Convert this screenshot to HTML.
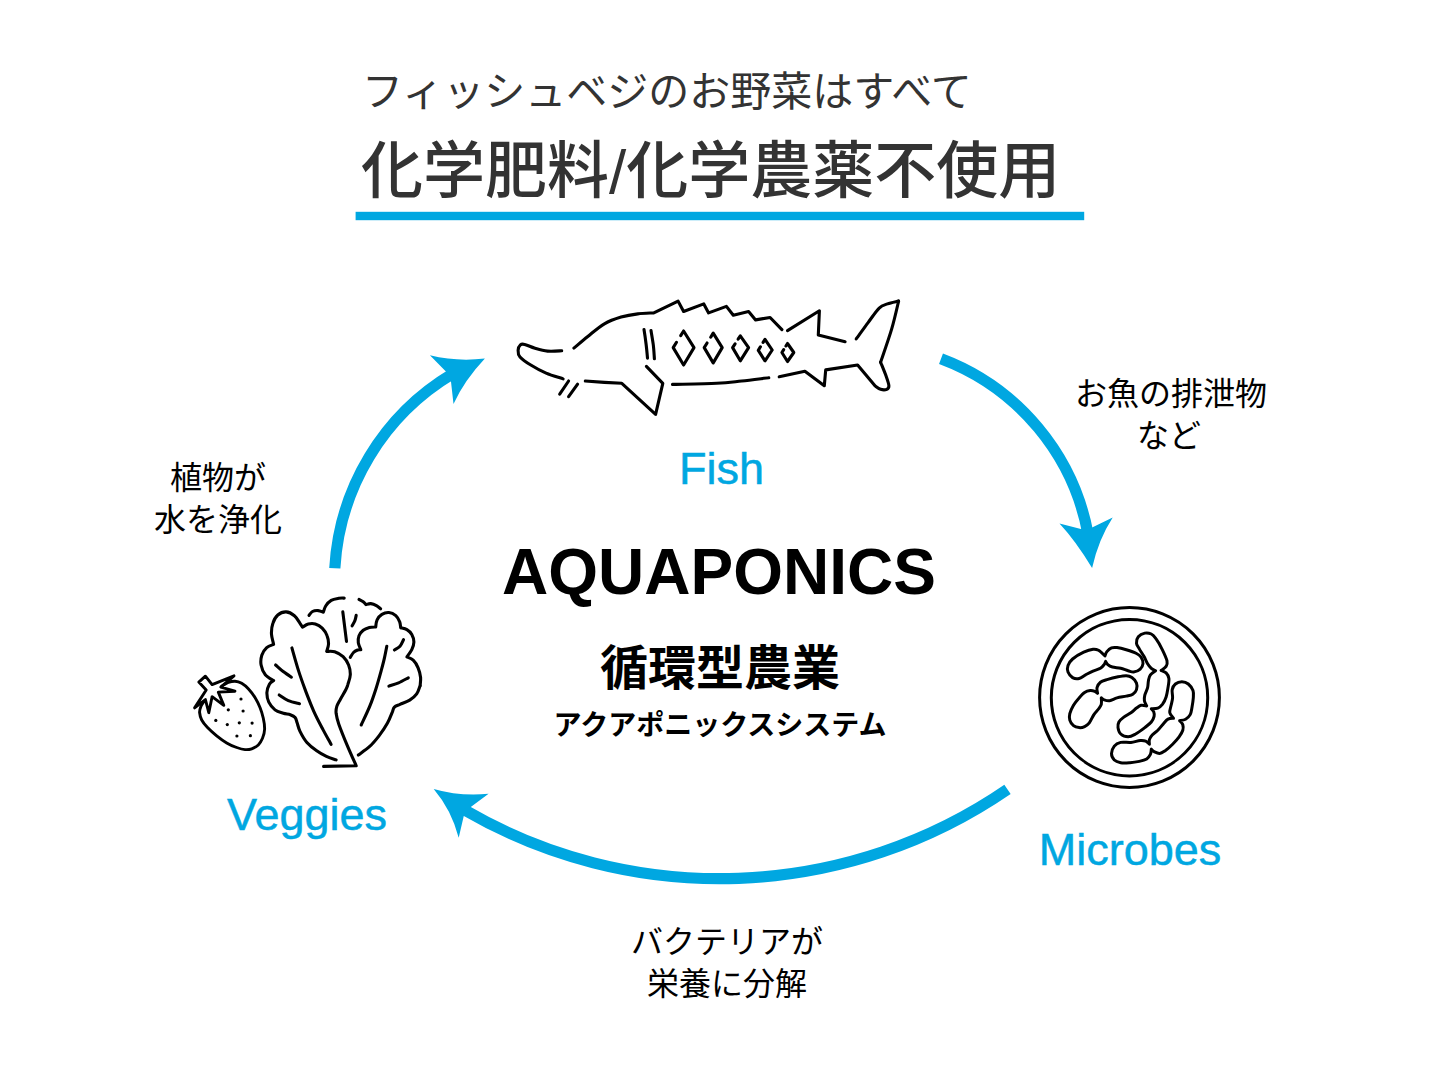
<!DOCTYPE html>
<html lang="ja"><head><meta charset="utf-8"><title>AQUAPONICS</title>
<style>
html,body{margin:0;padding:0;background:#fff}
#stage{position:relative;width:1440px;height:1080px;background:#fff;overflow:hidden;font-family:"Liberation Sans","Noto Sans CJK JP",sans-serif}
#stage svg{position:absolute;left:0;top:0}
.t{position:absolute;margin:0;color:#000;white-space:nowrap;text-align:center;line-height:1.3;pointer-events:none;user-select:none;font-family:"Liberation Sans","Noto Sans CJK JP",sans-serif}
.t.blue{color:#00a7e1;-webkit-text-stroke:0.5px #00a7e1}
svg text{font-family:"Liberation Sans","Noto Sans CJK JP",sans-serif}
</style></head><body>
<div id="stage">
<svg width="1440" height="1080" viewBox="0 0 1440 1080" style="filter:blur(0.55px)">
<rect width="1440" height="1080" fill="#fff"/>
<rect x="355.6" y="211.8" width="728.6" height="8.4" fill="#00a7e1"/>
<g id="arrows" fill="#00a7e1" stroke="none">
<path d="M334.8 568.2A242.5 242.5 0 0 1 452.6 373.8" fill="none" stroke="#00a7e1" stroke-width="11.2"/>
<path d="M429.9 355.3Q457.0 361.9 484.9 358.5Q464.4 380.2 453.5 404.0L451.0 381.8L445.9 371.6Z"/>
<path d="M941.0 358.7A232.8 232.8 0 0 1 1088.4 535.9" fill="none" stroke="#00a7e1" stroke-width="11.2"/>
<path d="M1059.5 523.5Q1075.8 541.0 1092.1 568.0Q1098.2 539.9 1112.7 517.4L1092.1 527.5L1080.9 528.9Z"/>
<path d="M1007.5 789.4A508.6 508.6 0 0 1 463.9 809.7" fill="none" stroke="#00a7e1" stroke-width="11.2"/>
<path d="M488.6 793.7Q460.0 796.5 433.7 788.9Q451.6 810.0 458.7 837.8L463.7 816.3L471.1 806.7Z"/>

</g>
<g id="icons" fill="none" stroke="#000" stroke-width="2.6" stroke-linecap="round" stroke-linejoin="round">
<g id="fish" stroke-width="3.1">
<path d="M561.7 350.8 C559.3 350.9 552.0 351.5 547.5 351.1 C543.0 350.7 538.8 349.4 535.0 348.3 C531.2 347.2 527.0 345.0 524.6 344.4 C522.2 343.8 521.5 343.9 520.4 344.9 C519.3 345.9 518.2 348.4 518.1 350.4 C518.0 352.4 517.9 354.5 520.0 356.9 C522.1 359.3 526.4 362.3 530.8 365.0 C535.1 367.7 540.7 370.8 546.1 373.1 C551.5 375.4 560.3 377.9 563.1 378.9"/>
<path d="M568.6 381.0 L559.7 394.2"/>
<path d="M577.6 384.2 L568.6 396.7"/>
<path d="M573.9 348.1 C576.2 346.2 582.7 340.6 587.8 336.5 C592.9 332.4 598.8 327.0 604.4 323.8 C610.0 320.6 615.5 318.8 621.1 317.1 C626.7 315.5 632.3 314.6 637.8 313.9 C643.2 313.2 651.1 313.1 653.8 312.9 L678.1 301.1 L683.6 311.5 L703.8 303.9 L708.6 312.9 L726.4 306.4 L733.3 315.3 L748.6 311.5 L755.6 319.9 L770.1 317.5 L781.9 329.6"/>
<path d="M644.0 329.6 C644.4 332.0 645.5 339.4 646.1 344.2 C646.7 348.9 647.3 355.8 647.5 358.1"/>
<path d="M651.0 330.6 C651.4 333.0 652.7 340.2 653.3 344.9 C653.9 349.6 654.2 356.5 654.4 358.8"/>
<path d="M646.4 366.4 L662.8 383.3 L655.6 414.3 L621.8 383.3 L604.4 382.4 L585.3 381.0"/>
<path d="M672.5 384.4 C679.9 384.2 705.2 383.9 716.7 383.3 C728.2 382.7 733.0 381.9 741.7 381.0 C750.4 380.1 764.3 378.3 768.8 377.8"/>
<path d="M787.5 330.6 L819.4 310.8 L818.3 335.1 L845.1 341.7"/>
<path d="M856.2 338.9 C858.2 336.2 864.3 327.7 868.1 322.6 C871.9 317.5 876.0 311.2 879.2 308.1 C882.4 305.0 884.3 305.1 887.5 303.9 C890.7 302.7 896.8 301.6 898.6 301.1"/>
<path d="M898.6 301.1 C897.5 305.7 894.7 318.7 891.7 328.9 C888.7 339.1 882.5 356.6 880.6 362.2"/>
<path d="M880.6 362.2 C881.5 364.5 884.7 372.2 886.1 376.1 C887.5 380.0 888.8 383.6 888.9 385.8 C889.0 388.0 888.2 388.7 886.8 389.3 C885.4 389.9 882.6 389.9 880.6 389.3 C878.6 388.7 875.9 386.4 875.0 385.8 L857.6 365.0 L825.7 369.9 L824.3 385.8 L804.9 371.2 L779.2 376.8"/>
<path d="M680.7 335.6 L683.6 331.0 L694.0 347.6 L683.6 365.0 L673.2 347.6 L676.5 342.3"/>
<path d="M710.7 337.2 L713.2 333.1 L722.2 347.6 L713.2 362.9 L704.2 347.6 L707.1 343.0"/>
<path d="M738.1 339.1 L740.3 335.8 L748.6 347.6 L740.3 360.8 L732.6 347.6 L735.1 343.8"/>
<path d="M763.1 342.4 L765.0 339.3 L772.2 350.0 L765.0 360.8 L758.3 350.4 L760.4 346.8"/>
<path d="M785.9 346.0 L787.5 343.5 L793.8 352.5 L787.5 361.5 L781.9 352.5 L783.7 349.6"/>
</g>
<g id="lettuce" stroke-width="3.1">
<path d="M336.1 759.9 C334.5 759.3 329.6 757.9 326.4 756.4 C323.2 754.9 319.9 753.1 316.7 750.8 C313.4 748.5 309.7 745.7 306.9 742.5 C304.1 739.3 301.6 734.6 300.0 731.4 C298.4 728.2 298.0 725.4 297.2 723.1 C296.4 720.8 296.2 718.9 295.1 717.5 C294.0 716.1 292.3 715.4 290.3 714.7 C288.3 714.0 285.9 714.1 283.3 713.3 C280.8 712.5 277.4 711.8 275.0 709.9 C272.6 708.0 270.2 705.1 268.8 702.2 C267.4 699.3 266.8 695.5 266.9 692.5 C267.0 689.5 268.3 686.2 269.4 684.2 C270.5 682.2 272.9 681.2 273.6 680.6 C272.2 679.6 267.4 677.3 265.3 674.7 C263.2 672.1 261.7 668.2 261.1 665.0 C260.5 661.8 260.9 658.2 261.8 655.3 C262.7 652.4 264.7 649.4 266.7 647.6 C268.7 645.8 272.5 644.9 273.6 644.4 C273.5 642.7 271.7 637.9 271.5 634.4 C271.3 630.9 271.8 626.5 272.9 623.3 C273.9 620.1 275.6 616.9 277.8 615.0 C280.0 613.1 283.3 611.8 286.1 611.9 C288.9 612.0 292.1 613.8 294.4 615.7 C296.7 617.6 298.6 621.4 300.0 623.3 C301.4 625.2 302.1 626.6 302.5 627.2 C303.5 626.7 306.2 624.5 308.3 624.0 C310.4 623.5 313.0 623.3 315.3 624.0 C317.6 624.7 320.2 626.2 322.2 628.2 C324.2 630.2 326.1 633.1 327.1 635.8 C328.2 638.5 328.6 641.6 328.5 644.2 C328.4 646.8 327.0 650.2 326.7 651.4 C328.0 651.5 332.0 650.9 334.7 651.8 C337.4 652.7 340.8 654.5 343.1 656.7 C345.4 658.9 347.4 662.0 348.6 665.0 C349.8 668.0 350.4 671.5 350.3 674.7 C350.2 677.9 348.6 681.9 347.9 684.4 C347.1 686.9 347.1 687.2 345.8 689.7 C344.5 692.2 341.8 696.6 340.3 699.4 C338.8 702.2 337.5 704.1 336.8 706.4 C336.1 708.7 335.8 710.3 336.1 713.3 C336.5 716.3 337.0 719.1 338.9 724.4 C340.8 729.7 344.3 738.4 347.2 745.3 C350.1 752.2 354.7 762.4 356.2 765.8 L323.6 766.4"/>
<path d="M291.9 647.9 C293.0 651.7 296.2 663.4 298.5 670.6 C300.8 677.8 303.1 684.1 305.6 690.9 C308.2 697.7 310.9 704.8 313.8 711.3 C316.7 717.8 320.1 724.1 323.0 729.6 C325.9 735.1 329.8 741.9 331.1 744.4"/>
<path d="M275.6 665.0 C276.9 666.1 280.6 669.6 283.2 671.6 C285.8 673.6 290.0 676.3 291.4 677.2"/>
<path d="M279.2 695.0 C280.7 695.9 284.9 699.1 288.3 700.6 C291.7 702.1 297.6 703.2 299.5 703.7"/>
<path d="M309.0 615.3 C309.6 614.7 311.0 612.3 312.5 611.5 C314.0 610.7 316.3 610.5 318.1 610.6 C319.9 610.7 322.4 611.9 323.3 612.2 C323.7 611.2 324.4 608.0 325.7 606.0 C327.0 604.0 329.0 601.7 331.2 600.4 C333.4 599.1 336.7 598.7 338.9 598.3 C341.1 597.9 343.3 598.1 344.2 598.1"/>
<path d="M359.0 599.4 C359.7 599.8 362.0 600.9 363.2 601.8 C364.4 602.7 365.5 604.1 366.0 604.6 C366.8 604.4 369.1 603.4 370.8 603.6 C372.5 603.8 374.8 604.7 376.4 605.6 C378.0 606.5 379.9 608.3 380.6 608.8"/>
<path d="M342.8 611.9 L346.5 641.4"/>
<path d="M356.2 615.3 C356.0 616.2 355.6 618.9 354.9 620.6 C354.2 622.4 352.6 624.9 352.1 625.8"/>
<path d="M350.3 657.4 C350.8 656.6 352.3 653.7 353.5 652.5 C354.7 651.3 356.4 650.5 357.6 650.0 C358.8 649.5 360.3 649.8 360.8 649.7 C360.4 648.6 358.6 645.1 358.3 642.8 C358.0 640.5 358.2 637.9 359.0 635.8 C359.8 633.7 361.5 631.7 363.2 630.3 C364.9 628.9 367.3 628.1 369.4 627.5 C371.5 626.9 374.6 627.0 375.7 626.9 C375.9 625.7 376.1 622.0 377.1 619.9 C378.1 617.8 379.9 615.5 381.9 614.3 C383.9 613.1 386.6 612.3 388.9 612.5 C391.2 612.7 394.0 614.1 395.8 615.7 C397.6 617.3 398.9 619.9 399.7 621.9 C400.5 623.9 400.5 626.8 400.7 627.8 C401.7 628.1 405.0 628.5 406.9 629.6 C408.8 630.7 410.6 632.3 411.8 634.4 C413.0 636.5 413.9 639.5 413.9 642.1 C413.9 644.7 413.0 647.2 411.8 649.7 C410.6 652.2 407.7 655.7 406.9 656.9 C407.9 657.4 411.3 658.3 413.2 660.1 C415.1 661.9 416.9 664.9 418.1 667.8 C419.3 670.7 420.3 674.5 420.6 677.5 C420.9 680.5 420.2 684.4 420.1 685.8 C420.0 687.1 420.7 684.2 420.1 685.6 C419.5 687.0 418.4 691.5 416.7 693.9 C415.0 696.3 412.5 698.4 409.7 700.1 C406.9 701.8 402.6 703.1 400.0 704.3 C397.4 705.5 395.7 705.8 394.4 707.1 C393.1 708.4 393.5 709.2 392.4 711.9 C391.2 714.6 389.7 719.1 387.5 723.1 C385.3 727.1 382.2 731.7 379.2 735.6 C376.2 739.5 372.9 743.5 369.4 746.7 C365.9 749.9 360.1 753.6 358.3 755.0"/>
<path d="M386.8 646.2 C386.4 648.2 385.3 654.0 384.4 658.1 C383.5 662.2 382.6 665.5 381.2 670.6 C379.8 675.7 377.8 683.0 375.9 688.9 C374.0 694.8 372.2 700.2 369.8 706.2 C367.4 712.2 362.6 721.9 361.2 725.0"/>
<path d="M403.5 639.7 C402.9 640.8 401.5 644.5 400.0 646.2 C398.5 647.9 395.3 649.4 394.4 650.0"/>
<path d="M408.3 677.8 C406.7 678.6 401.8 681.4 398.6 682.8 C395.4 684.2 390.5 685.5 388.9 686.1"/>
</g>
<g id="strawberry" stroke-width="2.9">
<path d="M221.7 686.2 C222.8 685.6 226.1 683.3 228.3 682.5 C230.5 681.7 232.8 681.1 235.0 681.2 C237.2 681.3 239.5 682.0 241.7 683.3 C243.9 684.6 246.1 686.4 248.3 688.8 C250.5 691.2 253.1 694.4 255.0 697.5 C256.9 700.6 258.6 704.0 260.0 707.5 C261.4 711.0 262.5 714.7 263.3 718.3 C264.1 721.9 264.7 725.9 264.6 729.2 C264.5 732.5 263.6 735.7 262.5 738.3 C261.4 740.9 260.1 743.2 258.3 745.0 C256.5 746.8 253.9 748.0 251.7 748.8 C249.5 749.6 247.5 749.8 245.0 749.6 C242.5 749.4 239.8 748.6 236.7 747.5 C233.6 746.4 230.0 744.9 226.7 742.9 C223.4 740.9 219.9 738.4 216.7 735.8 C213.5 733.2 210.0 730.1 207.5 727.5 C205.0 724.9 203.0 722.5 201.7 720.0 C200.4 717.5 199.8 714.7 199.6 712.5 C199.4 710.3 200.1 708.5 200.8 706.7 C201.5 704.9 203.3 702.5 203.8 701.7"/>
<path d="M198.8 682.1 L205.4 676.2 L212.1 684.6 L234.0 675.8 L220.8 687.1 L235.0 691.2 L218.3 692.1 L223.8 705.4 L212.1 696.7 L208.8 712.7 L205.4 699.6 L194.6 707.9 L206.2 690.0Z"/>
<g fill="#000" stroke="none"><circle cx="241.0" cy="699.0" r="1.6"/><circle cx="228.3" cy="709.8" r="1.6"/><circle cx="243.1" cy="711.0" r="1.6"/><circle cx="215.8" cy="720.4" r="1.6"/><circle cx="227.3" cy="724.6" r="1.6"/><circle cx="239.3" cy="722.8" r="1.6"/><circle cx="252.1" cy="723.1" r="1.6"/><circle cx="236.9" cy="736.0" r="1.6"/><circle cx="250.4" cy="735.7" r="1.6"/></g>
</g>
<g id="petri" stroke-width="3">
<circle cx="1129.5" cy="697.5" r="89.9"/>
<circle cx="1129.5" cy="697.7" r="78.2"/>
<path d="M1105.0 655.9 C1103.9 655.0 1100.5 651.4 1098.5 650.3 C1096.5 649.2 1095.5 648.9 1093.0 649.2 C1090.5 649.5 1087.1 650.6 1083.7 652.2 C1080.3 653.8 1075.2 656.8 1072.6 659.0 C1070.0 661.2 1068.8 663.3 1068.0 665.5 C1067.2 667.7 1067.2 670.0 1068.0 672.0 C1068.8 674.0 1070.8 676.5 1072.6 677.6 C1074.4 678.7 1076.9 679.0 1079.1 678.5 C1081.3 678.0 1083.3 676.0 1085.6 674.8 C1087.9 673.6 1090.5 672.2 1093.0 671.1 C1095.5 670.0 1098.6 669.4 1100.4 668.3 C1102.2 667.2 1103.2 665.8 1104.1 664.6 C1105.0 663.5 1105.3 661.9 1105.6 661.4 C1106.0 661.9 1106.7 663.7 1107.8 664.6 C1108.9 665.5 1110.2 666.4 1112.4 667.0 C1114.6 667.6 1118.1 667.7 1120.7 668.3 C1123.3 668.9 1125.9 670.1 1128.1 670.7 C1130.3 671.3 1131.7 672.2 1133.7 672.0 C1135.7 671.8 1138.7 670.6 1140.2 669.2 C1141.8 667.8 1142.8 665.7 1143.0 663.7 C1143.2 661.7 1142.2 658.9 1141.1 657.2 C1140.0 655.5 1139.0 654.7 1136.5 653.5 C1134.0 652.3 1129.5 650.8 1126.3 649.8 C1123.0 648.8 1119.5 647.9 1117.0 647.6 C1114.5 647.3 1113.2 647.2 1111.5 647.9 C1109.8 648.6 1108.0 650.3 1106.9 651.6 C1105.8 652.9 1105.3 655.2 1105.0 655.9Z"/>
<path d="M1097.6 693.3 C1097.5 692.4 1096.5 689.6 1097.0 687.7 C1097.5 685.9 1098.6 683.6 1100.4 682.2 C1102.2 680.8 1105.0 680.3 1107.8 679.4 C1110.6 678.5 1113.9 677.6 1117.0 677.0 C1120.1 676.4 1123.8 675.6 1126.3 675.7 C1128.8 675.8 1130.2 676.4 1131.9 677.6 C1133.6 678.8 1135.7 681.1 1136.5 683.1 C1137.3 685.1 1137.1 687.8 1136.5 689.6 C1135.9 691.5 1134.5 693.1 1132.8 694.2 C1131.1 695.3 1128.9 695.5 1126.3 696.1 C1123.7 696.7 1119.8 697.1 1117.0 697.9 C1114.2 698.7 1111.8 700.4 1109.6 700.7 C1107.4 701.0 1105.5 700.3 1104.1 699.8 C1102.7 699.3 1101.8 698.2 1101.3 697.9 C1101.3 699.0 1101.8 702.5 1101.3 704.4 C1100.8 706.2 1099.7 707.3 1098.5 709.0 C1097.3 710.7 1095.4 712.3 1093.9 714.6 C1092.4 716.9 1090.8 720.9 1089.3 722.9 C1087.8 724.9 1086.3 725.8 1084.6 726.6 C1082.9 727.4 1080.9 727.8 1079.1 727.6 C1077.2 727.5 1075.0 727.0 1073.5 725.7 C1072.0 724.5 1070.4 722.1 1069.8 720.1 C1069.2 718.1 1069.2 716.2 1069.8 713.7 C1070.4 711.2 1072.0 707.9 1073.5 705.3 C1075.0 702.7 1077.2 700.0 1079.1 697.9 C1080.9 695.8 1082.8 693.6 1084.6 692.4 C1086.4 691.2 1088.5 690.7 1090.2 690.5 C1091.9 690.3 1093.6 690.9 1094.8 691.4 C1096.0 691.9 1097.1 693.0 1097.6 693.3Z"/>
<path d="M1155.6 670.7 C1154.9 670.3 1152.6 669.5 1151.3 668.3 C1150.0 667.1 1148.8 665.7 1147.6 663.7 C1146.4 661.7 1145.3 658.8 1143.9 656.3 C1142.5 653.8 1140.5 651.1 1139.3 648.9 C1138.1 646.7 1136.7 645.3 1136.5 643.3 C1136.3 641.3 1136.9 638.5 1138.3 636.8 C1139.7 635.1 1142.6 633.6 1144.8 633.1 C1147.0 632.6 1149.4 633.1 1151.3 634.0 C1153.2 634.9 1154.1 636.1 1155.9 638.7 C1157.8 641.3 1160.6 646.1 1162.4 649.8 C1164.2 653.5 1166.4 658.1 1167.0 660.9 C1167.6 663.7 1167.1 664.8 1166.1 666.4 C1165.1 668.0 1161.9 669.8 1161.1 670.5 C1161.9 670.9 1164.8 671.6 1166.1 672.9 C1167.4 674.2 1168.6 676.0 1168.9 678.5 C1169.2 681.0 1168.5 684.6 1168.0 687.7 C1167.5 690.8 1167.0 694.2 1166.1 697.0 C1165.2 699.8 1163.8 702.5 1162.4 704.4 C1161.0 706.2 1159.7 707.4 1157.8 708.1 C1155.9 708.8 1152.4 708.6 1151.3 708.7 C1151.7 709.2 1153.2 710.5 1153.7 711.8 C1154.2 713.1 1154.5 714.7 1154.1 716.4 C1153.7 718.1 1152.8 720.1 1151.3 722.0 C1149.8 723.9 1147.4 725.6 1144.8 727.6 C1142.2 729.6 1138.4 732.5 1135.6 734.0 C1132.8 735.5 1130.6 736.8 1128.1 736.8 C1125.6 736.8 1122.4 735.5 1120.7 734.0 C1119.0 732.5 1118.3 729.6 1118.0 727.6 C1117.7 725.6 1118.0 723.7 1118.9 722.0 C1119.8 720.3 1121.5 718.9 1123.5 717.4 C1125.5 715.9 1128.7 714.2 1130.9 712.7 C1133.1 711.2 1134.8 709.3 1136.5 708.1 C1138.2 706.9 1139.4 705.7 1141.1 705.3 C1142.8 704.9 1145.8 705.8 1146.7 705.9 C1146.3 705.0 1144.7 702.5 1144.4 700.7 C1144.1 698.9 1144.3 697.3 1144.8 695.1 C1145.3 692.9 1147.0 690.2 1147.6 687.7 C1148.2 685.2 1148.0 682.4 1148.5 680.3 C1149.0 678.1 1149.2 676.4 1150.4 674.8 C1151.6 673.2 1154.7 671.4 1155.6 670.7Z"/>
<path d="M1173.5 718.3 C1172.9 717.4 1170.2 714.9 1169.8 712.7 C1169.4 710.5 1170.6 707.8 1171.1 705.3 C1171.6 702.8 1172.4 700.5 1172.6 697.9 C1172.8 695.3 1171.7 691.9 1172.2 689.6 C1172.7 687.3 1173.8 685.3 1175.4 684.0 C1177.0 682.7 1179.8 681.8 1181.9 681.8 C1184.1 681.8 1186.5 682.5 1188.3 684.0 C1190.1 685.5 1192.2 688.2 1193.0 690.5 C1193.8 692.8 1193.5 695.1 1193.3 697.9 C1193.1 700.7 1192.5 704.4 1192.0 707.2 C1191.5 710.0 1191.3 712.6 1190.2 714.6 C1189.1 716.6 1187.4 718.2 1185.6 719.2 C1183.8 720.2 1180.6 720.5 1179.6 720.7 C1180.1 721.4 1182.3 723.2 1182.8 724.8 C1183.3 726.4 1183.4 728.3 1182.8 730.3 C1182.2 732.3 1180.8 734.5 1179.1 736.8 C1177.4 739.1 1174.9 741.9 1172.6 744.2 C1170.3 746.5 1167.4 749.2 1165.2 750.7 C1163.0 752.2 1161.4 753.4 1159.6 753.5 C1157.8 753.6 1155.5 752.3 1154.1 751.6 C1152.7 750.9 1151.8 749.6 1151.3 749.2 C1151.2 750.1 1151.2 752.8 1150.4 754.4 C1149.6 756.0 1148.6 757.8 1146.7 759.0 C1144.8 760.2 1142.1 760.8 1139.3 761.4 C1136.5 762.0 1133.1 762.5 1130.0 762.7 C1126.9 762.9 1123.3 763.2 1120.7 762.7 C1118.1 762.2 1115.8 761.5 1114.3 760.0 C1112.8 758.5 1111.5 755.8 1111.5 753.5 C1111.5 751.2 1112.8 748.0 1114.3 746.1 C1115.8 744.2 1117.9 743.0 1120.7 742.4 C1123.5 741.8 1127.7 742.7 1130.9 742.4 C1134.2 742.1 1137.7 740.7 1140.2 740.5 C1142.7 740.3 1144.2 740.5 1145.7 741.1 C1147.2 741.7 1148.8 743.7 1149.4 744.2 C1149.4 743.4 1148.9 741.1 1149.4 739.6 C1149.9 738.1 1150.8 736.5 1152.2 735.0 C1153.6 733.5 1156.0 732.1 1157.8 730.3 C1159.6 728.4 1161.6 725.8 1163.3 723.9 C1165.0 722.0 1166.3 720.1 1168.0 719.2 C1169.7 718.3 1172.6 718.4 1173.5 718.3Z"/>
</g>

</g>
</svg>
<p class="t" style="left:362px;top:66px;font-size:41px;color:#333333">フィッシュベジのお野菜はすべて</p>
<h1 class="t" style="left:361px;top:132px;font-size:62px;font-weight:500;color:#333333">化学肥料/化学農薬不使用</h1>
<p class="t" style="left:154px;top:458px;font-size:32px;width:128px">植物が<br>水を浄化</p>
<p class="t" style="left:1075px;top:374px;font-size:32px;width:188px">お魚の排泄物<br>など</p>
<p class="t" style="left:631px;top:922px;font-size:32px;width:192px">バクテリアが<br>栄養に分解</p>
<p class="t blue" style="left:679px;top:440px;font-size:45px;width:83px">Fish</p>
<p class="t blue" style="left:221px;top:786px;font-size:45px;width:172px">Veggies</p>
<p class="t blue" style="left:1031px;top:821px;font-size:45px;width:198px">Microbes</p>
<h2 class="t" style="left:500px;top:531px;font-size:64px;width:438px;font-weight:bold">AQUAPONICS</h2>
<p class="t" style="left:600px;top:638px;font-size:48px;width:240px;font-weight:bold">循環型農業</p>
<p class="t" style="left:552px;top:708px;font-size:28px;width:336px;font-weight:bold">アクアポニックスシステム</p>
</div>
</body></html>
